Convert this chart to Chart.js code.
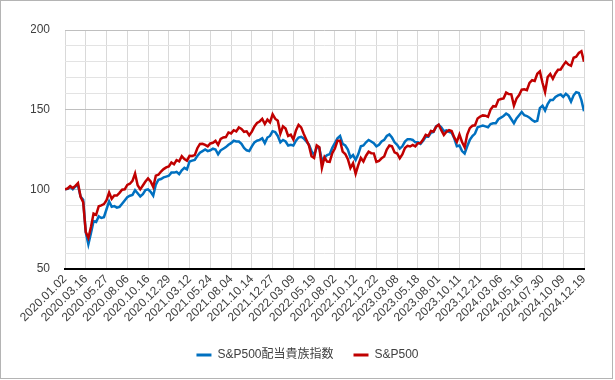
<!DOCTYPE html>
<html><head><meta charset="utf-8">
<script src="https://cdn.jsdelivr.net/npm/chart.js@4.4.1/dist/chart.umd.min.js"></script>
<style>
html,body{margin:0;padding:0;background:#fff;}
#wrap{position:absolute;left:0;top:0;width:615px;height:380px;}
#frame{position:absolute;left:0;top:0;width:613px;height:379px;box-sizing:border-box;border:1px solid #b4b4b4;pointer-events:none;}
</style></head><body>
<div id="wrap"><canvas id="c" width="615" height="380"></canvas></div>
<div id="frame"></div>
<script>
const seriesNames = ['S&P500配当貴族指数', 'S&P500'];
const tickLabels = ['2020.01.02','2020.03.16','2020.05.27','2020.08.06','2020.10.16','2020.12.29',
  '2021.03.12','2021.05.24','2021.08.04','2021.10.14','2021.12.27',
  '2022.03.09','2022.05.19','2022.08.02','2022.10.12','2022.12.22',
  '2023.03.08','2023.05.18','2023.08.01','2023.10.11','2023.12.21',
  '2024.03.06','2024.05.16','2024.07.30','2024.10.09','2024.12.19'];
const samplesPerTick = 8;
const aristocrats = [
  100.0,100.3,101.5,100.0,101.8,102.5,95.5,93.5,
  73.0,65.5,72.5,80.0,79.5,83.0,82.0,82.5,
  87.5,92.5,89.0,89.5,88.5,89.0,91.0,93.0,
  95.0,96.0,96.5,99.5,97.5,95.5,97.0,99.5,
  100.0,98.5,96.0,103.0,106.0,106.5,107.5,108.0,
  108.5,110.5,110.5,111.0,109.5,112.0,113.5,112.5,
  117.5,118.0,118.5,121.0,123.0,124.0,125.0,124.0,
  124.5,125.5,125.0,122.0,124.5,125.5,126.5,128.0,
  129.0,130.5,130.0,130.0,128.5,126.0,124.5,124.0,
  127.0,129.5,130.5,131.0,132.0,129.0,132.5,133.5,
  136.5,136.0,133.5,129.5,131.0,130.0,127.5,128.0,
  127.5,130.5,132.5,133.0,132.0,130.0,128.0,124.0,
  121.5,126.5,126.0,118.0,120.0,121.5,122.0,126.0,
  129.0,132.0,133.5,128.5,127.5,125.0,120.0,121.5,
  118.5,122.0,127.0,127.5,129.5,131.0,130.0,129.0,
  127.0,128.0,130.0,131.0,133.5,134.5,132.5,129.5,
  128.0,125.5,127.0,130.0,131.5,131.5,131.0,129.5,
  129.5,128.5,130.5,133.0,133.0,135.5,136.0,139.5,
  140.5,139.0,136.5,137.0,136.0,135.5,132.0,127.0,
  127.5,124.0,122.5,127.0,131.0,133.5,135.0,139.0,
  139.5,140.0,139.5,139.0,141.0,141.5,141.5,144.0,
  145.0,146.0,147.5,146.5,144.0,141.5,144.5,146.5,
  148.5,146.5,146.0,145.0,143.5,142.5,143.0,151.0,
  152.5,149.5,153.5,156.0,156.0,158.0,159.0,159.5,
  158.0,160.0,158.5,155.0,159.0,161.0,160.5,156.0,
  149.0];
const sp500 = [
  100.0,100.5,102.0,100.8,102.2,103.9,95.3,92.0,
  73.2,69.5,76.4,84.8,84.0,89.4,89.9,90.7,
  93.2,98.0,94.1,96.1,96.1,97.8,99.8,100.0,
  102.8,103.5,105.3,109.9,102.6,100.0,102.4,104.9,
  106.9,105.0,101.5,108.6,109.2,111.2,112.7,113.8,
  114.4,116.8,115.7,118.3,117.6,120.8,119.0,118.0,
  121.0,120.9,121.5,125.8,128.5,128.6,127.9,127.0,
  128.8,129.2,130.4,127.9,131.7,132.6,132.8,135.7,
  135.1,137.1,136.3,138.8,137.9,136.1,136.4,133.9,
  136.2,139.5,141.6,142.6,144.2,141.0,143.8,142.0,
  147.1,144.3,143.1,135.0,139.5,138.2,133.5,134.3,
  131.3,137.0,140.5,138.9,134.8,131.1,127.5,120.8,
  119.7,127.6,126.5,113.5,120.1,117.4,117.2,122.7,
  125.6,130.5,130.5,123.7,122.2,118.9,113.4,116.4,
  109.8,115.2,119.7,117.5,121.1,123.6,122.7,122.6,
  117.3,117.9,119.5,120.6,125.0,127.5,127.0,123.2,
  122.5,119.5,121.9,125.9,127.3,126.9,127.9,127.0,
  128.9,129.1,131.2,134.2,133.5,136.6,136.3,139.2,
  140.5,137.1,134.1,136.1,137.1,136.6,132.6,129.8,
  134.4,129.7,126.4,134.4,138.4,139.9,140.2,144.5,
  145.7,146.4,146.2,145.5,150.1,152.2,152.0,156.1,
  156.7,157.1,160.7,159.8,159.6,152.5,157.0,159.2,
  162.6,162.8,162.2,166.8,168.5,168.0,172.5,174.0,
  166.9,161.0,170.5,172.4,169.4,172.7,175.1,175.2,
  177.8,180.0,178.3,177.5,182.6,183.2,185.6,186.7,
  180.1];
const yMin = 50, yMax = 200, yStep = 10, yLabelStep = 50;

const FONT = '"Liberation Sans", Arial, "Noto Sans CJK JP", sans-serif';
const toXY = arr => arr.map((v, i) => ({x: i, y: v}));
const lastIndex = (tickLabels.length - 1) * samplesPerTick;

new Chart(document.getElementById('c'), {
  type: 'line',
  data: {
    datasets: [
      {label: seriesNames[0], data: toXY(aristocrats), borderColor: '#0070C0', backgroundColor: '#0070C0',
       borderWidth: 2.5, pointRadius: 0, tension: 0, order: 2},
      {label: seriesNames[1], data: toXY(sp500), borderColor: '#C00000', backgroundColor: '#C00000',
       borderWidth: 2.5, pointRadius: 0, tension: 0, order: 1}
    ]
  },
  options: {
    responsive: false,
    animation: false,
    devicePixelRatio: 1,
    layout: {padding: {top: 30, right: 31, left: 31, bottom: 9}},
    plugins: {
      tooltip: {enabled: false},
      legend: {
        position: 'bottom',
        labels: {
          font: {family: FONT, size: 12},
          color: '#404040',
          boxWidth: 15, boxHeight: 3, padding: 20,
          generateLabels: (chart) => {
            const items = Chart.defaults.plugins.legend.labels.generateLabels(chart);
            items.forEach(it => { it.lineWidth = 0; it.fillStyle = it.strokeStyle; });
            return items.sort((a, b) => a.datasetIndex - b.datasetIndex);
          }
        }
      }
    },
    scales: {
      x: {
        type: 'linear',
        min: 0, max: lastIndex,
        afterBuildTicks: (scale) => { scale.ticks = tickLabels.map((_, i) => ({value: i * samplesPerTick})); },
        afterFit: (scale) => { scale.height = 60; },
        ticks: {
          autoSkip: false, minRotation: 45, maxRotation: 45, padding: 3,
          font: {family: FONT, size: 12}, color: '#404040',
          callback: (v) => tickLabels[Math.round(v / samplesPerTick)]
        },
        grid: {color: '#d9d9d9', lineWidth: 1, drawTicks: false},
        border: {display: true, color: '#000000', width: 2}
      },
      y: {
        min: yMin, max: yMax,
        afterFit: (scale) => { scale.width = 34; },
        ticks: {
          autoSkip: false, stepSize: yStep, padding: 15,
          font: {family: FONT, size: 12}, color: '#404040',
          callback: (v) => (v % yLabelStep === 0 ? String(v) : '')
        },
        grid: {
          drawTicks: false, lineWidth: 1,
          color: (ctx) => (ctx.tick && ctx.tick.value % yLabelStep === 0 ? '#bfbfbf' : '#e3e3e3')
        },
        border: {display: false}
      }
    }
  }
});
</script>
</body></html>
